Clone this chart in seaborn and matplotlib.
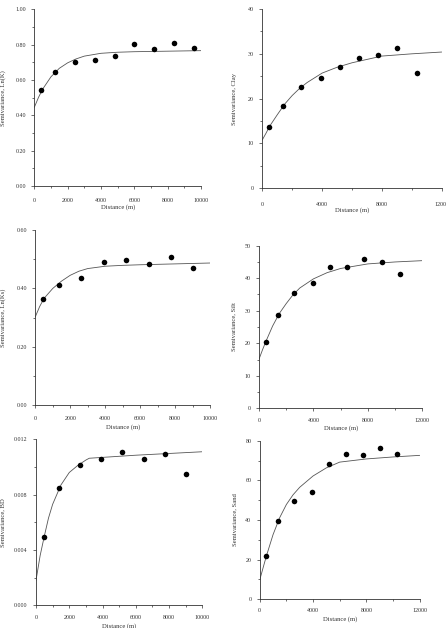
import matplotlib
matplotlib.use("Agg")
import matplotlib.pyplot as plt
from matplotlib.ticker import MultipleLocator, FormatStrFormatter
import seaborn as sns

# experimental semivariograms (lag distance in m, semivariance)
lnk_dist = [419, 1257, 2415, 3613, 4830, 6008, 7166, 8383, 9581]
lnk_gamma = [0.545, 0.645, 0.700, 0.713, 0.738, 0.806, 0.775, 0.808, 0.783]
clay_dist = [468, 1361, 2610, 3904, 5175, 6447, 7740, 9034, 10328]
clay_gamma = [13.6, 18.4, 22.5, 24.6, 27.0, 29.1, 29.7, 31.2, 25.7]
lnks_dist = [458, 1374, 2615, 3931, 5191, 6489, 7767, 9046]
lnks_gamma = [0.364, 0.412, 0.436, 0.490, 0.496, 0.485, 0.509, 0.469]
silt_dist = [490, 1396, 2596, 3968, 5192, 6490, 7739, 9037, 10335]
silt_gamma = [20.4, 28.6, 35.5, 38.4, 43.3, 43.5, 45.8, 45.0, 41.4]
bd_dist = [481, 1383, 2625, 3928, 5190, 6473, 7735, 9018]
bd_gamma = [0.00494, 0.00848, 0.01014, 0.01058, 0.01108, 0.01060, 0.01096, 0.00947]
sand_dist = [475, 1375, 2600, 3925, 5200, 6475, 7750, 9000, 10300]
sand_gamma = [21.7, 39.3, 49.6, 54.1, 68.1, 73.3, 72.9, 76.5, 73.1]

# fitted model curves
fit_dist_10k = [0, 250, 500, 1000, 1500, 2000, 2500, 3000, 4000, 5000, 6000, 8000, 10000]
fit_dist_12k = fit_dist_10k + [12000]
lnk_fit = [0.445, 0.501, 0.548, 0.618, 0.666, 0.697, 0.719, 0.735, 0.751, 0.757, 0.760, 0.763, 0.766]
clay_fit = [10.8, 12.3, 13.9, 16.4, 18.8, 20.7, 22.3, 23.6, 25.7, 27.0, 28.0, 29.5, 30.0, 30.4]
lnks_fit = [0.303, 0.338, 0.366, 0.400, 0.425, 0.445, 0.459, 0.468, 0.476, 0.479, 0.481, 0.484, 0.487]
silt_fit = [15.1, 17.9, 20.5, 25.3, 29.2, 32.2, 34.9, 37.0, 39.8, 41.7, 43.0, 44.4, 45.0, 45.4]
bd_fit_dist = [0, 250, 500, 750, 1000, 1500, 2000, 2500, 3000, 3200, 6000, 10000]
bd_fit = [0.0018, 0.0036, 0.0050, 0.0063, 0.0073, 0.0087, 0.0096, 0.0101, 0.0105, 0.01063, 0.01085, 0.0111]
sand_fit = [9.7, 15.8, 21.8, 32.6, 41.2, 47.8, 52.7, 56.5, 62.2, 66.3, 69.2, 70.8, 71.8, 72.6]

sns.set_style("ticks")
plt.rcParams['font.family'] = ['Liberation Serif', 'DejaVu Serif']

W, H = 446, 628
fig = plt.figure(figsize=(W / 100, H / 100), dpi=100)
ink = '#333333'


def panel(box, dist, gamma, fdist, fgamma, xmax, xmaj, xmin, ymax, ymaj, ymin, yfmt,
          ylabel, ylab_x, xtick_pad, xlab_y):
    left, right, top, bottom = box
    ax = fig.add_axes([left / W, 1 - bottom / H, (right - left) / W, (bottom - top) / H])
    sns.lineplot(x=fdist, y=fgamma, ax=ax, color='#555555', linewidth=0.6, sort=True)
    sns.scatterplot(x=dist, y=gamma, ax=ax, color='black', s=16, linewidth=0, zorder=3)
    ax.set_xlim(0, xmax)
    ax.set_ylim(0, ymax)
    ax.xaxis.set_major_locator(MultipleLocator(xmaj))
    ax.xaxis.set_minor_locator(MultipleLocator(xmin))
    ax.yaxis.set_major_locator(MultipleLocator(ymaj))
    ax.yaxis.set_minor_locator(MultipleLocator(ymin))
    ax.yaxis.set_major_formatter(FormatStrFormatter(yfmt))
    sns.despine(ax=ax)
    for s in ['left', 'bottom']:
        ax.spines[s].set_linewidth(0.6)
        ax.spines[s].set_color(ink)
    ax.tick_params(which='both', direction='out', width=0.5, color=ink, labelcolor=ink,
                   labelsize=4.3)
    ax.tick_params(which='major', length=2)
    ax.tick_params(which='minor', length=1.6)
    ax.tick_params(axis='x', pad=xtick_pad)
    ax.tick_params(axis='y', pad=4)
    ax.set_xlabel('Distance (m)', fontsize=4.8, color=ink)
    ax.set_ylabel(ylabel, fontsize=4.8, color=ink)
    ax.xaxis.set_label_coords(0.5, (bottom - xlab_y) / (bottom - top))
    ax.yaxis.set_label_coords((ylab_x - left) / (right - left), 0.5)
    return ax


panel((34.3, 201, 9.3, 186), lnk_dist, lnk_gamma, fit_dist_10k, lnk_fit,
      10000, 2000, 1000, 1.0, 0.2, 0.1, '%.2f', 'Semivariance, Ln(K)', 5.7, 7, 204.7)
panel((262.3, 441.7, 9, 188.3), clay_dist, clay_gamma, fit_dist_12k, clay_fit,
      12000, 4000, 2000, 40, 10, 5, '%d', 'Semivariance, Clay', 237, 8, 207.3)
panel((35.3, 210, 230, 405.3), lnks_dist, lnks_gamma, fit_dist_10k, lnks_fit,
      10000, 2000, 1000, 0.6, 0.2, 0.1, '%.2f', 'Semivariance, Ln(Ks)', 5.7, 6, 424)
panel((259, 422.3, 245.7, 408.3), silt_dist, silt_gamma, fit_dist_12k, silt_fit,
      12000, 4000, 2000, 50, 10, 5, '%d', 'Semivariance, Silt', 236.3, 5, 425)
panel((36, 202.3, 439.3, 605.3), bd_dist, bd_gamma, bd_fit_dist, bd_fit,
      10000, 2000, 1000, 0.012, 0.004, 0.002, '%.3f', 'Semivariance, BD', 5.7, 5, 623)
panel((259.7, 419.7, 440.7, 599.3), sand_dist, sand_gamma, fit_dist_12k, sand_fit,
      12000, 4000, 2000, 80, 20, 10, '%d', 'Semivariance, Sand', 237, 4.5, 616.7)

fig.savefig('out.png', dpi=100, facecolor='white')
